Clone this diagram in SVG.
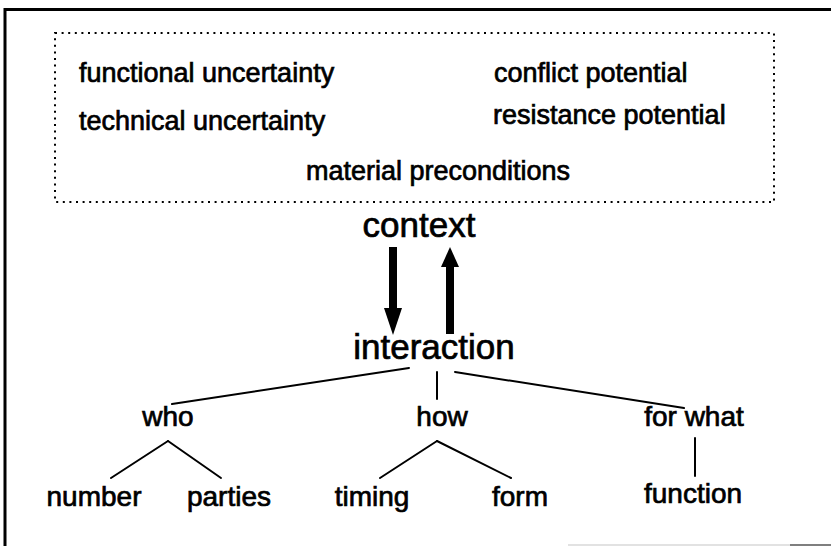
<svg xmlns="http://www.w3.org/2000/svg" width="831" height="546" viewBox="0 0 831 546">
  <style>
    text { font-family: "Liberation Sans", Arial, Helvetica, sans-serif; fill: #000; stroke: #000; stroke-width: 0.7; }
    .top { font-size: 27px; }
    .big { font-size: 35px; text-anchor: middle; }
    .lbl { font-size: 28px; text-anchor: middle; }
    .edge { stroke: #000; stroke-width: 2; fill: none; stroke-linecap: round; }
    .frame { stroke: #000; stroke-width: 3; fill: none; }
    .dotted { stroke: #000; stroke-width: 2; fill: none; stroke-dasharray: 2 4.6; }
  </style>
  <rect width="831" height="546" fill="#fff"/>

  <!-- outer frame (partial) -->
  <g id="frame">
    <path class="frame" d="M5,546 L5,9.5 L831,9.5"/>
    <line x1="568" y1="545" x2="790" y2="545" stroke="#d8d8d8" stroke-width="1.5"/>
    <line x1="790" y1="545" x2="831" y2="545" stroke="#555" stroke-width="1.5"/>
  </g>

  <!-- context box -->
  <g id="context-box">
    <rect class="dotted" x="55" y="33" width="719" height="169"/>
    <text class="top" x="79" y="82">functional uncertainty</text>
    <text class="top" x="494" y="82">conflict potential</text>
    <text class="top" x="79" y="130">technical uncertainty</text>
    <text class="top" x="493" y="124">resistance potential</text>
    <text class="top" x="438" y="180" text-anchor="middle">material preconditions</text>
  </g>

  <g id="context"><text class="big" x="419" y="237">context</text></g>
  <g id="interaction"><text class="big" x="434" y="359">interaction</text></g>
  <g id="who"><text class="lbl" x="168" y="426">who</text></g>
  <g id="how"><text class="lbl" x="442" y="426">how</text></g>
  <g id="for-what"><text class="lbl" x="694" y="426">for what</text></g>
  <g id="number"><text class="lbl" x="94" y="506">number</text></g>
  <g id="parties"><text class="lbl" x="229" y="506">parties</text></g>
  <g id="timing"><text class="lbl" x="372" y="506">timing</text></g>
  <g id="form"><text class="lbl" x="520" y="506">form</text></g>
  <g id="function"><text class="lbl" x="693" y="503">function</text></g>

  <g id="connectors">
    <!-- arrows between context and interaction -->
    <rect x="389" y="247" width="8" height="64" fill="#000"/>
    <polygon points="384,308 402,308 393,335" fill="#000"/>
    <polygon points="450,247 441,267 459,267" fill="#000"/>
    <rect x="446" y="264" width="8" height="70" fill="#000"/>
    <!-- tree -->
    <line class="edge" x1="409" y1="368" x2="172" y2="404"/>
    <line class="edge" x1="437" y1="372" x2="437" y2="399"/>
    <line class="edge" x1="455" y1="372" x2="684" y2="408"/>
    <line class="edge" x1="168" y1="441" x2="111" y2="478"/>
    <line class="edge" x1="168" y1="441" x2="221" y2="478"/>
    <line class="edge" x1="437" y1="441" x2="380" y2="478"/>
    <line class="edge" x1="437" y1="441" x2="511" y2="478"/>
    <line class="edge" x1="695" y1="438" x2="695" y2="476"/>
  </g>
</svg>
